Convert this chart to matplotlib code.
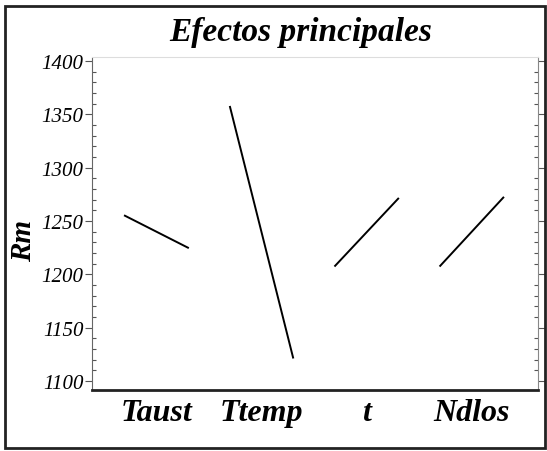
import matplotlib.pyplot as plt
from matplotlib.patches import Rectangle
from matplotlib.ticker import MultipleLocator

# main effects on Rm, low / high level of each factor
factors = ['Taust', 'Ttemp', 't', 'Ndlos']
rm_low = [1255, 1357, 1208, 1208]
rm_high = [1225, 1122, 1271, 1272]
y_ticks = [1100, 1150, 1200, 1250, 1300, 1350, 1400]

fig = plt.figure(figsize=(5.47, 4.52), dpi=100)
ax = fig.add_axes([0.168, 0.135, 0.8155, 0.7367])

seg = 0.6
for i, f in enumerate(factors):
    ax.plot([i, i + seg], [rm_low[i], rm_high[i]], color='black', lw=1.4)

ax.set_xlim(-0.314, 3.93)
ax.set_ylim(1091.6, 1403.8)

ax.set_xticks([i + seg / 2 for i in range(len(factors))])
ax.set_xticklabels(factors, fontsize=23, fontstyle='italic', fontweight='bold',
                   family='Liberation Serif')
ax.tick_params(axis='x', length=0, pad=6)

ax.set_yticks(y_ticks)
ax.set_yticklabels([str(v) for v in y_ticks], fontsize=15, fontstyle='italic',
                   family='Liberation Serif')
ax.yaxis.set_minor_locator(MultipleLocator(10))
ax.tick_params(axis='y', which='major', direction='out', length=5, width=0.8,
               right=True, color='#555555', pad=1)
ax.tick_params(axis='y', which='minor', direction='in', length=3, width=0.8,
               right=True, color='#555555')

ax.spines['bottom'].set_linewidth(2)
ax.spines['bottom'].set_color('#222222')
ax.spines['left'].set_linestyle((0, (2, 1)))
ax.spines['left'].set_color('#666666')
ax.spines['right'].set_color('#888888')
ax.spines['top'].set_color('#dddddd')

ax.set_ylabel('Rm', fontsize=21, fontstyle='italic', fontweight='bold',
              family='Liberation Serif')
ax.yaxis.set_label_coords(-0.122, 0.45)

fig.text(0.55, 0.927, 'Efectos principales', fontsize=24, fontstyle='italic',
         fontweight='bold', family='Liberation Serif', ha='center', va='center')

fig.patches.append(Rectangle((0.009, 0.006), 0.988, 0.978, transform=fig.transFigure,
                             fill=False, edgecolor='#222222', lw=2))

fig.savefig('out.png', dpi=100)
